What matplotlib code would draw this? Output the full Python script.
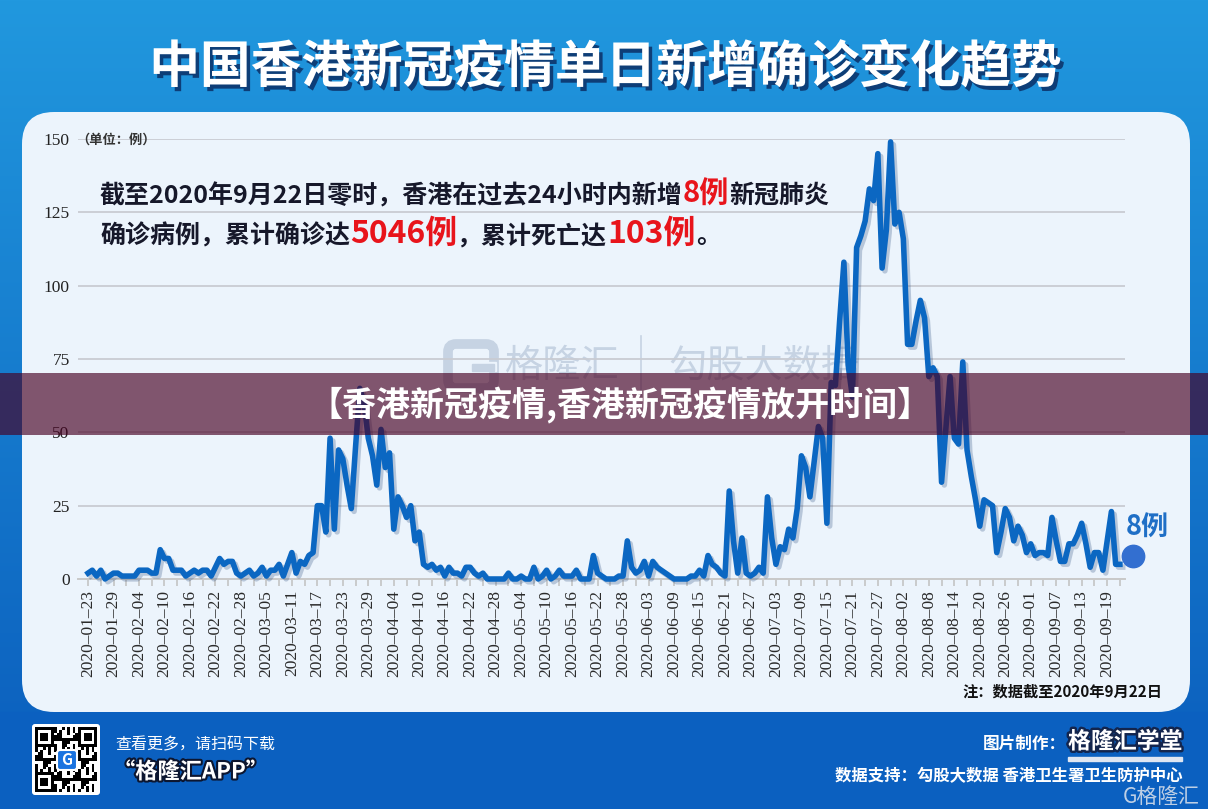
import numpy as np
import pandas as pd
import matplotlib
matplotlib.use("Agg")
import matplotlib.pyplot as plt
import matplotlib.patheffects as pe
from matplotlib.patches import FancyBboxPatch, Rectangle

plt.rcParams['font.family'] = ['Noto Sans CJK SC', 'DejaVu Sans']

W, H = 1208, 809

# ---- data ----
start_date = "2020-01-23"
daily_new = [
    2, 3, 1, 3, 0, 1, 2, 2, 1, 1,
    1, 1, 3, 3, 3, 2, 2, 10, 7, 7,
    3, 3, 3, 1, 2, 3, 2, 3, 3, 1,
    4, 7, 5, 6, 6, 2, 1, 2, 3, 1,
    2, 4, 1, 3, 3, 5, 1, 5, 9, 2,
    6, 5, 8, 9, 25, 25, 16, 48, 17, 44,
    41, 32, 24, 45, 65, 60, 48, 42, 32, 51,
    38, 43, 17, 28, 25, 21, 25, 13, 16, 5,
    4, 5, 3, 4, 1, 4, 2, 2, 1, 4,
    4, 2, 1, 2, 0, 0, 0, 0, 0, 2,
    0, 0, 1, 0, 0, 4, 0, 1, 3, 0,
    1, 3, 1, 1, 1, 3, 0, 0, 0, 8,
    2, 1, 0, 0, 0, 1, 1, 13, 4, 2,
    3, 6, 1, 6, 4, 3, 2, 1, 0, 0,
    0, 0, 1, 1, 3, 1, 8, 5, 4, 2,
    1, 30, 13, 2, 14, 2, 1, 2, 4, 2,
    28, 14, 5, 11, 10, 17, 14, 24, 42, 38,
    28, 40, 52, 48, 19, 67, 66, 88, 108, 73,
    62, 113, 117, 122, 133, 129, 145, 106, 119, 149,
    121, 125, 116, 80, 80, 88, 95, 89, 69, 72,
    69, 33, 51, 69, 48, 46, 74, 44, 35, 27,
    18, 27, 26, 25, 9, 16, 24, 21, 13, 18,
    15, 9, 12, 8, 9, 9, 8, 21, 13, 6,
    6, 12, 12, 15, 19, 12, 4, 9, 9, 3,
    13, 23, 5, 5,
]
latest_new = 8
total_cases = 5046
total_deaths = 103
y_ticks = [0, 25, 50, 75, 100, 125, 150]

dates = pd.date_range(start_date, periods=len(daily_new), freq="D")
day_idx = np.arange(len(daily_new))
label_idx = day_idx[::6]
x_labels = [d.strftime("%Y–%m–%d") for d in dates[::6]]

title = "中国香港新冠疫情单日新增确诊变化趋势"
band_text = "【香港新冠疫情,香港新冠疫情放开时间】"

DARK = "#16182a"
RED = "#e8141b"
LINE = "#0b67c2"


def main():
    fig = plt.figure(figsize=(W / 100, H / 100), dpi=100)

    # background: blue gradient + light panel
    bg = fig.add_axes([0, 0, 1, 1], zorder=-10)
    top = np.array([33, 152, 222]) / 255
    bot = np.array([10, 92, 188]) / 255
    t = np.linspace(0, 1, H)[:, None, None]
    grad = top * (1 - t) + bot * t
    bg.imshow(grad, extent=[0, W, H, 0], aspect="auto")
    bg.set_xlim(0, W); bg.set_ylim(H, 0); bg.axis("off")
    bg.add_patch(Rectangle((0, 712), W, H - 712, color="#0b60c0", zorder=1))
    bg.add_patch(FancyBboxPatch((22, 112), 1168, 600, boxstyle="round,pad=0,rounding_size=32",
                                fc="#ecf4fc", ec="none", zorder=2))

    # watermark behind the chart
    wm = "#c6d3e3"
    bg.add_patch(FancyBboxPatch((448, 344), 46, 44, boxstyle="round,pad=0,rounding_size=8",
                                fc="none", ec=wm, lw=7, zorder=3))
    bg.add_patch(Rectangle((470, 362), 26, 9, color="#ecf4fc", zorder=3))
    bg.add_patch(Rectangle((472, 364), 22, 7, color=wm, zorder=3))
    bg.text(505, 366, "格隆汇", fontsize=27.5, color=wm, va="center", ha="left", zorder=3)
    bg.plot([641, 641], [336, 396], color=wm, lw=1.2, zorder=3)
    bg.text(668, 366, "勾股大数据", fontsize=27.5, color=wm, va="center", ha="left", zorder=3)

    # main chart
    ax = fig.add_axes([78 / W, 1 - 579 / H, (1125 - 78) / W, (579 - 139) / H], zorder=1)
    ax.patch.set_alpha(0)
    ax.plot(day_idx, daily_new, color=LINE, lw=4.0, clip_on=False, zorder=3,
            path_effects=[pe.SimpleLineShadow(offset=(2, -2), shadow_color="#1b3f74", alpha=0.25),
                          pe.Normal()])
    ax.scatter([day_idx[-1] + 3], [latest_new], s=260, color="#336fd0", zorder=4, clip_on=False)
    ax.annotate(f"{latest_new}例", xy=(day_idx[-1] + 3, latest_new), xytext=(-5, 10),
                textcoords="offset points", fontsize=19.5, fontweight="bold",
                color="#1f6fc6", ha="left", va="bottom", annotation_clip=False)

    ax.set_xlim(-2.36, 244.2)
    ax.set_ylim(0, 150)
    ax.set_yticks(y_ticks)
    ax.set_yticklabels([str(v) for v in y_ticks], family="Liberation Serif", fontsize=12.5, color="#222222")
    ax.set_xticks(label_idx)
    ax.set_xticks(day_idx[::3], minor=True)
    ax.set_xticklabels(x_labels, rotation=90, family="Liberation Serif", fontsize=12.5, color="#2a2a2a")
    ax.tick_params(axis="y", length=0, pad=6)
    ax.tick_params(axis="x", which="both", length=5, width=1.2, color="#c4c4c4", pad=3)
    ax.grid(axis="y", color="#c9ccd3", lw=1.3)
    ax.set_axisbelow(True)
    for s in ["top", "right", "left"]:
        ax.spines[s].set_visible(False)
    ax.spines["bottom"].set_color("#c9c9c9")
    ax.spines["bottom"].set_linewidth(1.4)

    # overlay for texts (pixel coordinates)
    ov = fig.add_axes([0, 0, 1, 1], zorder=5)
    ov.set_xlim(0, W); ov.set_ylim(H, 0); ov.axis("off"); ov.patch.set_alpha(0)

    ov.text(W / 2 + 2, 68, title, fontsize=36.5, fontweight="heavy", color="white",
            ha="center", va="center",
            path_effects=[pe.withSimplePatchShadow(offset=(2.5, -3), shadow_rgbFace="#0b2f66", alpha=0.85)])

    ov.text(76, 140, "（单位：例）", fontsize=9.5, fontweight="bold", color="#333333", ha="left", va="center")

    renderer = fig.canvas.get_renderer()

    def chain(parts, x, y):
        for s, color, size in parts:
            t = ov.text(x, y, s, fontsize=size, fontweight="bold", color=color, ha="left", va="baseline")
            x += t.get_window_extent(renderer).width

    chain([("截至2020年9月22日零时，香港在过去24小时内新增", DARK, 18),
           (f"{latest_new}例", RED, 21),
           ("新冠肺炎", DARK, 18)], 100, 203)
    chain([("确诊病例，累计确诊达", DARK, 18),
           (f"{total_cases}例", RED, 23),
           ("，累计死亡达", DARK, 18),
           (f"{total_deaths}例", RED, 23),
           ("。", DARK, 18)], 100, 243)

    ov.text(1162, 692, "注：数据截至2020年9月22日", fontsize=11, fontweight="bold", color="#111111",
            ha="right", va="center")

    # bottom bar
    ov.add_patch(FancyBboxPatch((32, 724), 68, 71, boxstyle="round,pad=0,rounding_size=3",
                                fc="white", ec="none", zorder=2))
    n = 23
    qr = np.zeros((n, n))
    for i in range(n):
        for j in range(n):
            qr[i, j] = 1 if ((i * i + 3 * j + i * j) % 7) < 3 else 0
    for (r0, c0) in [(0, 0), (0, n - 7), (n - 7, 0)]:
        qr[r0:r0 + 7, c0:c0 + 7] = 1
        qr[r0 + 1:r0 + 6, c0 + 1:c0 + 6] = 0
        qr[r0 + 2:r0 + 5, c0 + 2:c0 + 5] = 1
    ov.imshow(1 - qr, cmap="gray", extent=[35, 97, 792, 727], zorder=3, interpolation="nearest", vmin=0, vmax=1)
    ov.add_patch(FancyBboxPatch((57, 750), 20, 20, boxstyle="round,pad=0,rounding_size=3",
                                fc="#1a73e0", ec="white", lw=1.5, zorder=4))
    ov.text(67, 760, "G", fontsize=11, fontweight="bold", color="white", ha="center", va="center", zorder=5)
    ov.set_xlim(0, W); ov.set_ylim(H, 0)

    ov.text(115, 745, "查看更多，请扫码下载", fontsize=11.5, color="white", ha="left", va="center",
            style="italic")
    ov.text(113, 772, "“格隆汇APP”", fontsize=16, fontweight="heavy", color="white", ha="left",
            va="center", style="italic",
            path_effects=[pe.withStroke(linewidth=3, foreground="#0c1630")])

    ov.text(1066, 744, "图片制作：", fontsize=12, fontweight="bold", color="white", ha="right", va="center")
    ov.text(1068, 742, "格隆汇学堂", fontsize=16.5, fontweight="heavy", color="white", ha="left",
            va="center", path_effects=[pe.withStroke(linewidth=3.5, foreground="#13254d")])
    ov.add_patch(Rectangle((1068, 757), 114, 4, color="#dfe6f2", zorder=3))
    ov.text(1183, 776, "数据支持：勾股大数据 香港卫生署卫生防护中心", fontsize=11.8, fontweight="bold",
            color="white", ha="right", va="center")
    ov.text(1200, 797, "G格隆汇", fontsize=15, color="#dde3ec", alpha=0.85, ha="right", va="center")

    # translucent band with its caption
    ov.add_patch(Rectangle((0, 373), W, 62, color=(71 / 255, 0, 34 / 255), alpha=0.65, zorder=10, lw=0))
    ov.text(620, 405, band_text, fontsize=24.5, fontweight="heavy", color="white",
            ha="center", va="center", zorder=11)

    fig.savefig("out.png", dpi=100)
    plt.close(fig)


if __name__ == "__main__":
    main()
